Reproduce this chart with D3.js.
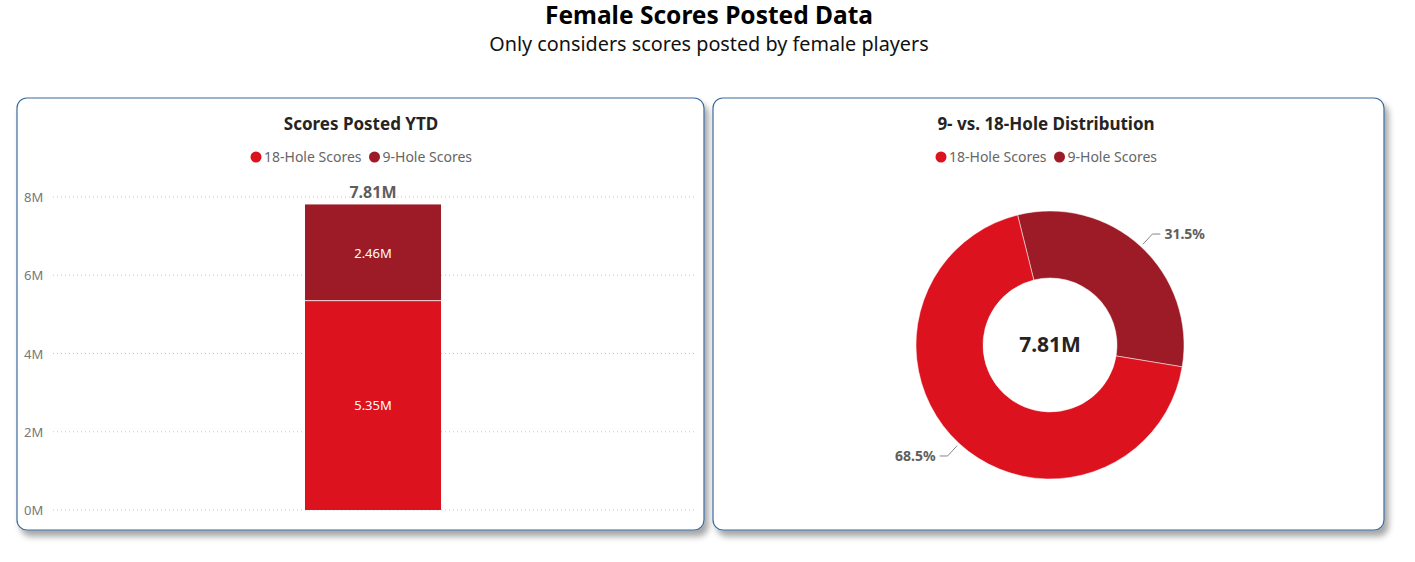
<!DOCTYPE html>
<html>
<head>
<meta charset="utf-8">
<script src="https://cdn.jsdelivr.net/npm/d3@7"></script>
<style>
  body { margin: 0; background: #fff; font-family: "Segoe UI", "Noto Sans", sans-serif; }
  svg text { font-family: "Segoe UI", "Noto Sans", sans-serif; }
</style>
</head>
<body>
<svg id="chart" width="1415" height="562"></svg>
<script>
/* ---------- data ---------- */
const seriesNames = ['18-Hole Scores', '9-Hole Scores'];
const seriesColors = ['#dc121f', '#9c1b26'];
const seriesValues = [5.35, 2.46];   // millions
const totalLabel = '7.81M';
const yTicks = [0, 2, 4, 6, 8];
const pctLabels = ['68.5%', '31.5%'];

const svg = d3.select('#chart');

/* ---------- shadow ---------- */
const defs = svg.append('defs');
const f = defs.append('filter').attr('id', 'shadow')
  .attr('x', '-5%').attr('y', '-5%').attr('width', '115%').attr('height', '120%');
f.append('feDropShadow').attr('dx', 4).attr('dy', 6).attr('stdDeviation', 3)
  .attr('flood-color', '#000').attr('flood-opacity', 0.35);

/* ---------- page title ---------- */
svg.append('text').attr('x', 709).attr('y', 24).attr('text-anchor', 'middle')
  .attr('font-size', 24.5).attr('font-weight', 700).attr('fill', '#000')
  .text('Female Scores Posted Data');
svg.append('text').attr('x', 709).attr('y', 51).attr('text-anchor', 'middle')
  .attr('font-size', 19.8).attr('fill', '#111')
  .text('Only considers scores posted by female players');

/* ---------- cards ---------- */
const cards = [
  { x: 17, y: 98, w: 687, h: 432, title: 'Scores Posted YTD', cx: 361 },
  { x: 713, y: 98, w: 671, h: 432, title: '9- vs. 18-Hole Distribution', cx: 1046 }
];
cards.forEach(c => {
  svg.append('rect').attr('x', c.x).attr('y', c.y).attr('width', c.w).attr('height', c.h)
    .attr('rx', 10).attr('fill', '#fff').attr('stroke', '#3b6b9c').attr('stroke-width', 1.2)
    .attr('filter', 'url(#shadow)');
  svg.append('text').attr('x', c.cx).attr('y', 130).attr('text-anchor', 'middle')
    .attr('font-size', 17).attr('font-weight', 700).attr('fill', '#252423').text(c.title);

  // legend
  const lg = svg.append('g');
  let lx = 0;
  seriesNames.forEach((n, i) => {
    const g = lg.append('g').attr('transform', `translate(${lx},0)`);
    g.append('circle').attr('cx', 6).attr('cy', 0).attr('r', 5.5).attr('fill', seriesColors[i]);
    const t = g.append('text').attr('x', 14).attr('y', 5).attr('font-size', 14)
      .attr('fill', '#666').text(n);
    lx += 14 + t.node().getComputedTextLength() + 7;
  });
  lg.attr('transform', `translate(${c.cx - (lx - 7) / 2},157)`);
});

/* ---------- stacked bar ---------- */
const y = d3.scaleLinear().domain([0, 8]).range([510, 197]);
const x = d3.scaleBand().domain(['YTD']).range([49, 697]).paddingInner(0).paddingOuter(1.882);

const grid = svg.append('g');
yTicks.forEach(t => {
  grid.append('line').attr('x1', 53).attr('x2', 697).attr('y1', y(t)).attr('y2', y(t))
    .attr('stroke', '#c8c8c8').attr('stroke-dasharray', '1,3');
  grid.append('text').attr('x', 24).attr('y', y(t) + 5).attr('font-size', 13)
    .attr('fill', '#777').text(t + 'M');
});

const stack = d3.stack().keys([0, 1]).value((d, k) => d[k])([seriesValues]);
svg.append('g').selectAll('rect').data(stack).join('rect')
  .attr('x', x('YTD')).attr('width', x.bandwidth())
  .attr('y', d => y(d[0][1])).attr('height', d => y(d[0][0]) - y(d[0][1]))
  .attr('fill', (d, i) => seriesColors[i]);
svg.append('line').attr('x1', x('YTD')).attr('x2', x('YTD') + x.bandwidth())
  .attr('y1', y(seriesValues[0])).attr('y2', y(seriesValues[0]))
  .attr('stroke', '#fff').attr('stroke-width', 0.8);
svg.append('g').selectAll('text').data(stack).join('text')
  .attr('x', x('YTD') + x.bandwidth() / 2)
  .attr('y', d => (y(d[0][0]) + y(d[0][1])) / 2 + 5)
  .attr('text-anchor', 'middle').attr('font-size', 13).attr('fill', '#fff')
  .text((d, i) => seriesValues[i].toFixed(2) + 'M');
svg.append('text').attr('x', x('YTD') + x.bandwidth() / 2).attr('y', y(d3.sum(seriesValues)) - 6)
  .attr('text-anchor', 'middle').attr('font-size', 16).attr('font-weight', 700)
  .attr('fill', '#605e5c').text(totalLabel);

/* ---------- donut ---------- */
const cxD = 1050, cyD = 345, rOut = 134, rIn = 67;
const start = -14 * Math.PI / 180;
const pie = d3.pie().sort(null).startAngle(start).endAngle(start + 2 * Math.PI);
// 9-hole first, then 18-hole (clockwise from top-left)
const order = [1, 0];
const arcs = pie(order.map(i => seriesValues[i]));
const arc = d3.arc().innerRadius(rIn).outerRadius(rOut);
const dg = svg.append('g').attr('transform', `translate(${cxD},${cyD})`);
dg.selectAll('path').data(arcs).join('path')
  .attr('d', arc).attr('fill', (d, i) => seriesColors[order[i]])
  .attr('stroke', '#fff').attr('stroke-width', 0.5);

dg.append('text').attr('x', 0).attr('y', 7).attr('text-anchor', 'middle')
  .attr('font-size', 21).attr('font-weight', 700).attr('fill', '#252423').text(totalLabel);

// leader lines & percentage labels
arcs.forEach((a, i) => {
  const mid = (a.startAngle + a.endAngle) / 2;
  const p0 = [Math.sin(mid) * (rOut + 3), -Math.cos(mid) * (rOut + 3)];
  const p1 = [Math.sin(mid) * (rOut + 17), -Math.cos(mid) * (rOut + 17)];
  const right = Math.sin(mid) > 0;
  const p2 = [p1[0] + (right ? 8 : -8), p1[1]];
  dg.append('polyline').attr('points', [p0, p1, p2].map(p => p.join(',')).join(' '))
    .attr('fill', 'none').attr('stroke', '#888').attr('stroke-width', 1);
  dg.append('text').attr('x', p2[0] + (right ? 4 : -4)).attr('y', p2[1] + 5)
    .attr('text-anchor', right ? 'start' : 'end')
    .attr('font-size', 14).attr('font-weight', 700).attr('fill', '#605e5c')
    .text(pctLabels[order[i]]);
});
</script>
</body>
</html>
